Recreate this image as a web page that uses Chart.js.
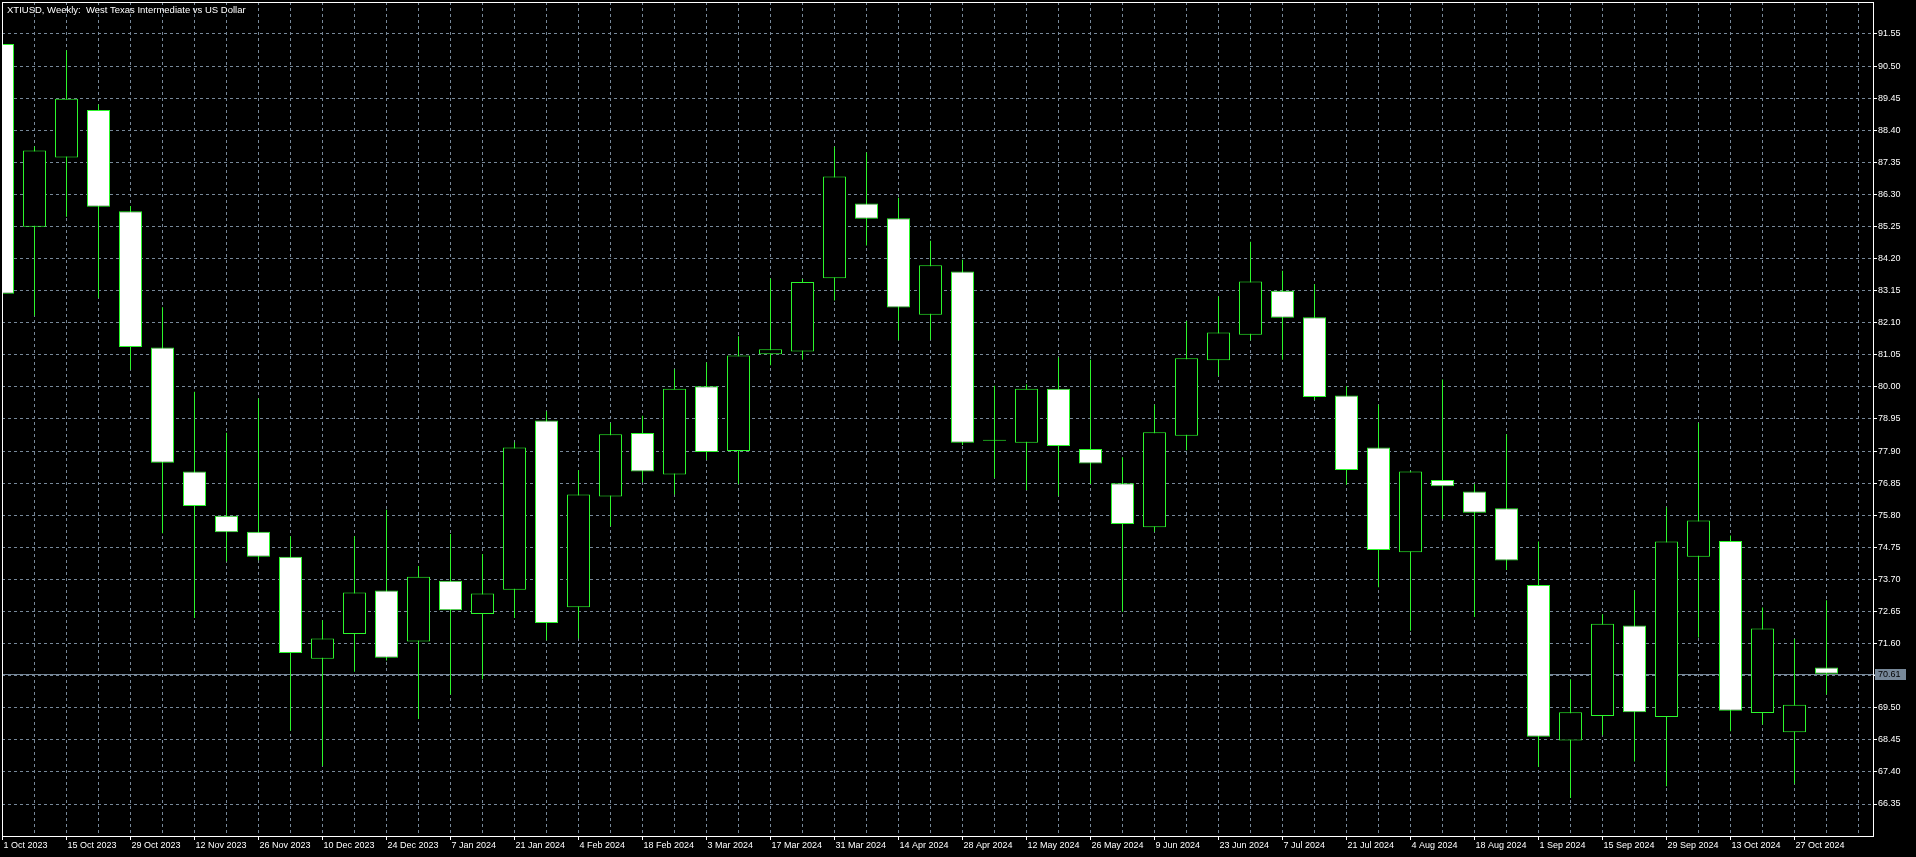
<!DOCTYPE html>
<html>
<head>
<meta charset="utf-8">
<title>XTIUSD, Weekly</title>
<script src="https://cdn.jsdelivr.net/npm/chart.js@4.4.0/dist/chart.umd.min.js"></script>
<style>
    html, body { margin: 0; padding: 0; background: #000; overflow: hidden; }
    #wrap { position: relative; width: 1916px; height: 857px; }
    #title { position: absolute; left: 7px; top: 4px; color: #fff; font-family: 'Liberation Sans', Arial, sans-serif; font-size: 9.5px; line-height: 12px; white-space: pre; }
</style>
</head>
<body>
<div id="wrap">
    <canvas id="CandleChart1" width="1916" height="857"></canvas>
    <div id="title">XTIUSD, Weekly:  West Texas Intermediate vs US Dollar</div>
</div>
<script>
// one label every second week
const weekLabels = ['1 Oct 2023', '15 Oct 2023', '29 Oct 2023', '12 Nov 2023', '26 Nov 2023', '10 Dec 2023',
    '24 Dec 2023', '7 Jan 2024', '21 Jan 2024', '4 Feb 2024', '18 Feb 2024', '3 Mar 2024', '17 Mar 2024',
    '31 Mar 2024', '14 Apr 2024', '28 Apr 2024', '12 May 2024', '26 May 2024', '9 Jun 2024', '23 Jun 2024',
    '7 Jul 2024', '21 Jul 2024', '4 Aug 2024', '18 Aug 2024', '1 Sep 2024', '15 Sep 2024', '29 Sep 2024',
    '13 Oct 2024', '27 Oct 2024'];

const opens = [91.22, 85.24, 87.51, 89.06, 85.75, 81.29, 77.23, 75.78, 75.26, 74.44,
    71.10, 71.91, 73.34, 71.67, 73.66, 72.57, 73.36, 78.90, 72.79, 76.41,
    78.49, 77.13, 80.02, 77.90, 81.07, 81.16, 83.56, 86.00, 85.52, 82.36,
    83.78, 78.24, 78.17, 79.94, 77.97, 76.85, 75.41, 78.40, 80.87, 81.71,
    83.15, 82.28, 79.72, 78.02, 74.59, 76.95, 76.58, 76.03, 73.52, 68.43,
    69.23, 72.19, 69.20, 74.44, 74.96, 69.33, 68.70, 70.82];
const highs = [91.40, 87.87, 91.02, 89.24, 85.92, 82.61, 79.84, 78.50, 79.62, 75.11,
    72.36, 75.11, 75.98, 74.14, 75.19, 74.53, 78.18, 79.20, 77.27, 78.82,
    79.06, 80.58, 80.80, 81.66, 83.55, 83.53, 87.86, 87.67, 86.19, 84.78,
    84.16, 80.04, 80.09, 80.96, 80.89, 77.70, 79.42, 82.16, 82.96, 84.75,
    83.80, 83.36, 80.02, 79.42, 77.25, 80.24, 76.82, 78.45, 74.94, 70.43,
    72.56, 73.34, 76.06, 78.82, 75.14, 72.78, 71.75, 73.02];
const lows = [82.70, 82.33, 85.57, 82.91, 80.56, 75.21, 72.44, 74.29, 74.33, 68.75,
    67.59, 70.68, 71.05, 69.13, 69.93, 70.43, 72.44, 71.71, 71.77, 75.44,
    76.88, 76.48, 77.62, 76.82, 80.71, 80.89, 82.83, 84.63, 81.53, 81.54,
    78.10, 77.02, 76.63, 76.43, 76.82, 72.64, 75.26, 77.93, 80.36, 81.53,
    80.89, 79.57, 76.80, 73.44, 72.02, 75.68, 72.47, 74.01, 67.56, 66.55,
    68.60, 67.74, 66.93, 71.80, 68.73, 68.95, 67.01, 69.93];
const closes = [83.05, 87.74, 89.43, 85.90, 81.31, 77.52, 76.10, 75.24, 74.44, 71.29,
    71.77, 73.27, 71.14, 73.79, 72.69, 73.24, 78.02, 72.27, 76.48, 78.45,
    77.23, 79.94, 77.87, 81.03, 81.23, 83.43, 86.89, 85.50, 82.60, 83.98,
    78.17, 78.26, 79.94, 78.07, 77.49, 75.51, 78.52, 80.94, 81.78, 83.45,
    82.26, 79.67, 77.28, 74.66, 77.23, 76.75, 75.88, 74.32, 68.55, 69.35,
    72.25, 69.35, 74.94, 75.63, 69.40, 72.09, 69.60, 70.61];

const priceTicks = [91.55, 90.50, 89.45, 88.40, 87.35, 86.30, 85.25, 84.20, 83.15, 82.10, 81.05, 80.00,
    78.95, 77.90, 76.85, 75.80, 74.75, 73.70, 72.65, 71.60, 70.55, 69.50, 68.45, 67.40, 66.35];
const lastPrice = 70.61;

const green = '#2cf52c';
const gridColor = '#778899';
const font = { family: "'Liberation Sans', Arial, sans-serif", size: 9 };

const bodies = opens.map((o, i) => ({ x: i, y: [o, closes[i]] }));
const wicks = highs.map((h, i) => ({ x: i, y: [lows[i], h] }));

const bidLine = {
    id: 'bidLine',
    beforeDatasetsDraw(chart) {
        const { ctx, chartArea, scales: { y } } = chart;
        const py = Math.round(y.getPixelForValue(lastPrice)) + 0.5;
        ctx.save();
        ctx.strokeStyle = gridColor;
        ctx.lineWidth = 1;
        ctx.beginPath();
        ctx.moveTo(chartArea.left, py);
        ctx.lineTo(chartArea.right + 2, py);
        ctx.stroke();
        ctx.restore();
    },
    afterDraw(chart) {
        const { ctx, chartArea, scales: { y } } = chart;
        ctx.save();
        ctx.strokeStyle = '#ffffff';
        ctx.lineWidth = 1;
        ctx.strokeRect(chartArea.left + 0.5, chartArea.top + 0.5, chartArea.width, chartArea.height);
        const py = Math.round(y.getPixelForValue(lastPrice)) + 0.5;
        ctx.fillStyle = gridColor;
        ctx.fillRect(chartArea.right + 2, Math.round(py - 5.5), 31, 11);
        ctx.fillStyle = '#000';
        ctx.font = "9px 'Liberation Sans', Arial, sans-serif";
        ctx.textBaseline = 'middle';
        ctx.fillText(lastPrice.toFixed(2), chartArea.right + 5, py);
        ctx.restore();
    }
};

const ctx = document.getElementById('CandleChart1').getContext('2d');
const CandleChart1 = new Chart(ctx, {
    type: 'bar',
    data: {
        datasets: [{
            label: 'Body',
            data: bodies,
            grouped: false,
            barThickness: 23,
            minBarLength: 1,
            borderWidth: 1,
            borderSkipped: false,
            inflateAmount: 0,
            borderColor: green,
            backgroundColor: c => (closes[c.dataIndex] < opens[c.dataIndex] ? '#ffffff' : '#000000'),
            clip: 0,
            order: 0
        }, {
            label: 'Wick',
            data: wicks,
            grouped: false,
            barThickness: 1,
            borderWidth: 0,
            inflateAmount: 0,
            backgroundColor: green,
            clip: 0,
            order: 1
        }]
    },
    options: {
        responsive: false,
        animation: false,
        events: [],
        layout: { padding: { left: 2, top: 2, right: 0, bottom: 0 } },
        plugins: { legend: { display: false }, tooltip: { enabled: false } },
        scales: {
            x: {
                type: 'linear',
                offset: false,
                min: -0.5 / 32,
                max: -0.5 / 32 + 1871 / 32,
                afterBuildTicks: s => { s.ticks = Array.from({ length: 59 }, (_, i) => ({ value: i })); },
                afterFit: s => { s.height = 21; s.paddingLeft = 0; s.paddingRight = 0; },
                grid: {
                    offset: false,
                    color: gridColor,
                    tickLength: 4,
                    tickColor: c => (c.index % 2 === 0 && c.index < 57 ? '#ffffff' : 'rgba(0,0,0,0)')
                },
                border: { display: false, dash: [3, 3] },
                ticks: {
                    autoSkip: false,
                    maxRotation: 0,
                    minRotation: 0,
                    align: 'start',
                    labelOffset: 1,
                    padding: 0,
                    color: '#ffffff',
                    font: font,
                    callback: (v, i) => (i % 2 === 0 && weekLabels[i / 2] ? weekLabels[i / 2] : '')
                }
            },
            y: {
                position: 'right',
                min: 65.303,
                max: 92.597,
                afterBuildTicks: s => { s.ticks = priceTicks.map(v => ({ value: v })); },
                afterFit: s => { s.width = 43; s.paddingTop = 0; s.paddingBottom = 0; },
                grid: { color: gridColor, tickLength: 4, tickColor: '#ffffff' },
                border: { display: false, dash: [3, 3] },
                ticks: {
                    padding: 1,
                    crossAlign: 'near',
                    color: '#ffffff',
                    font: font,
                    callback: v => v.toFixed(2)
                }
            }
        }
    },
    plugins: [bidLine]
});
</script>
</body>
</html>
